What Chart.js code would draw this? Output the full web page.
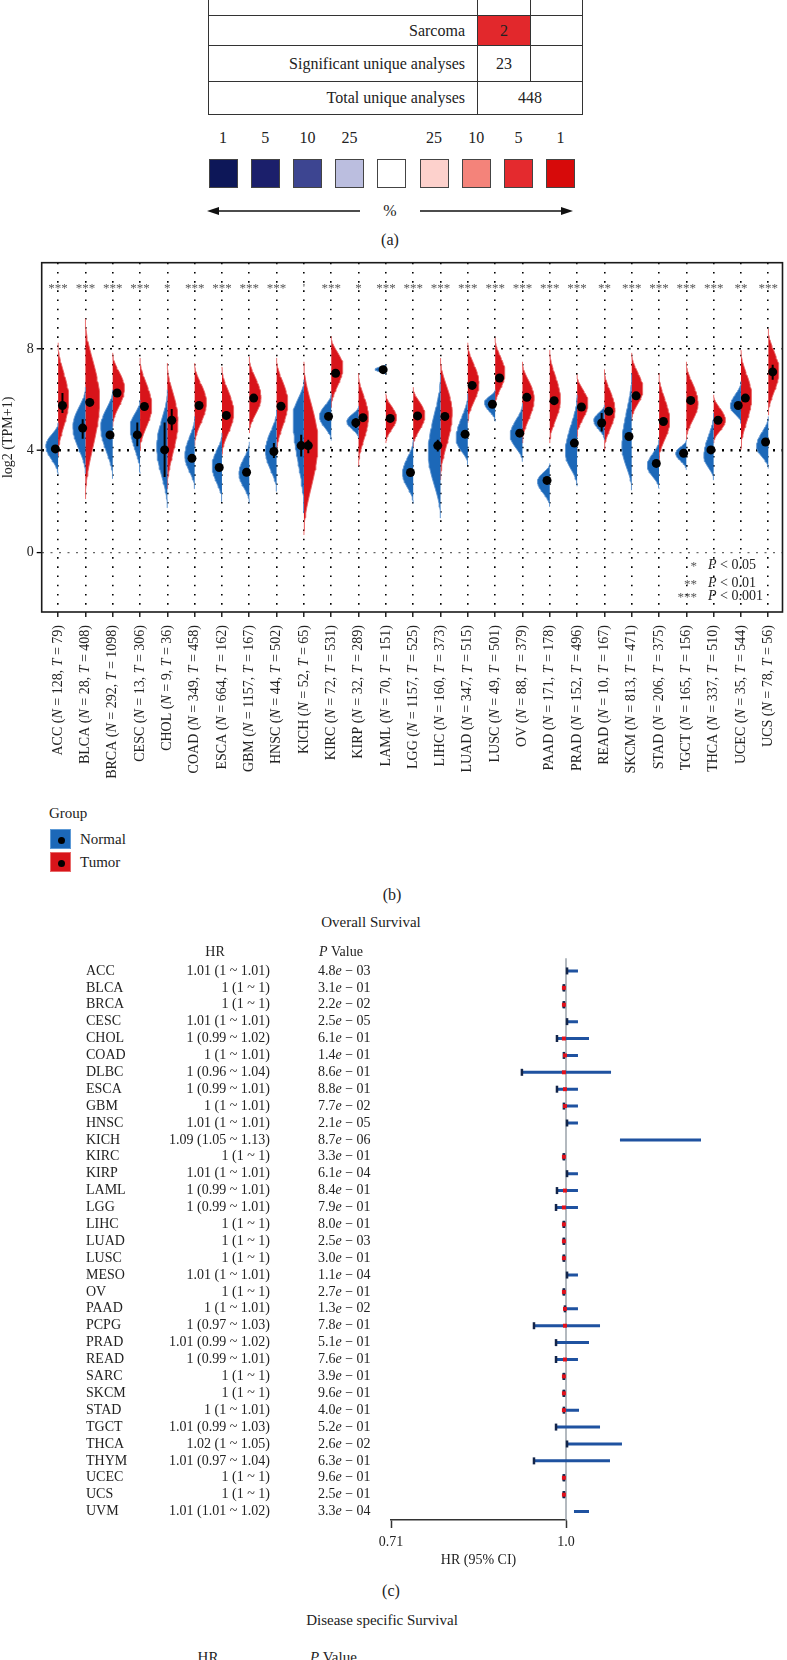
<!DOCTYPE html>
<html>
<head>
<meta charset="utf-8">
<script src="https://cdn.jsdelivr.net/npm/chart.js"></script>
<style>
  body { margin: 0; background: #fff; }
  #page { position: relative; width: 787px; height: 1660px; overflow: hidden; font-family: 'Liberation Serif', 'Times New Roman', serif; color: #222; }
  .abs { position: absolute; }
  #tableA { position: absolute; left: 208px; top: -16px; border-collapse: collapse; table-layout: fixed; font-size: 16px; }
  #tableA td { border: 1.5px solid #333; padding: 0; }
  .lbl { text-align: right; padding-right: 12px !important; }
  .num { text-align: center; }
  .sq { position: absolute; top: 159px; width: 29px; height: 29px; box-sizing: border-box; border: 1.5px solid #444; }
  .snum { position: absolute; top: 128px; width: 29px; text-align: center; font-size: 16px; line-height: 20px; }
  .cap { position: absolute; font-size: 16px; line-height: 18px; transform: translateX(-50%); white-space: nowrap; }
  .gsq { position: absolute; left: 50px; width: 21px; height: 20px; box-sizing: border-box; }
  .gdot { position: absolute; left: 7px; top: 6.5px; width: 7px; height: 7px; border-radius: 50%; background: #000; }
  .gtxt { position: absolute; left: 80px; font-size: 15px; line-height: 18px; }
</style>
</head>
<body>
<div id="page">
  <table id="tableA"></table>
  <div id="scaleA"></div>
  <svg class="abs" style="left:0;top:201px" width="787" height="20">
    <line x1="214" y1="10" x2="360" y2="10" stroke="#111" stroke-width="1.5"/>
    <polygon points="207,10 219,6 219,14" fill="#111"/>
    <line x1="420" y1="10" x2="566" y2="10" stroke="#111" stroke-width="1.5"/>
    <polygon points="573,10 561,6 561,14" fill="#111"/>
  </svg>
  <div class="cap" style="left:390px;top:202px">%</div>
  <div class="cap" style="left:390px;top:231px">(a)</div>

  <div class="abs" style="left:0;top:250px;width:787px;height:545px"><canvas id="violinChart"></canvas></div>

  <div class="gtxt" style="left:49px;top:804px">Group</div>
  <div class="gsq" style="top:829px;background:#1c68b8;border:1px solid #5d9ad6"><div class="gdot"></div></div>
  <div class="gtxt" style="top:830px">Normal</div>
  <div class="gsq" style="top:852px;background:#d8141a;border:1px solid #e86a6a"><div class="gdot"></div></div>
  <div class="gtxt" style="top:853px">Tumor</div>

  <div class="cap" style="left:392px;top:886px">(b)</div>
  <div class="cap" style="left:371px;top:913px;font-size:15px">Overall Survival</div>

  <div class="abs" style="left:0;top:900px;width:787px;height:680px"><canvas id="forestChart"></canvas></div>

  <div class="cap" style="left:391px;top:1582px">(c)</div>
  <div class="cap" style="left:382px;top:1611px;font-size:15px">Disease specific Survival</div>
  <div class="cap" style="left:208px;top:1648px;font-size:15px">HR</div>
  <div class="abs" style="left:310px;top:1648px;font-size:15px;line-height:18px"><i>P</i> Value</div>
</div>

<script>
// panel a
const tableLabels = ['Sarcoma', 'Significant unique analyses', 'Total unique analyses'];
const tableCounts = ['2', '23', '448'];
const scaleLabels = ['1', '5', '10', '25', '', '25', '10', '5', '1'];
const scaleColors = ['#0d1758', '#1b1f6b', '#3d4591', '#bbbedf', '#ffffff', '#fdd1cc', '#f4837a', '#e42a2e', '#d70a0a'];

// panel b
const cancers = ['ACC','BLCA','BRCA','CESC','CHOL','COAD','ESCA','GBM','HNSC','KICH','KIRC','KIRP','LAML','LGG','LIHC','LUAD','LUSC','OV','PAAD','PRAD','READ','SKCM','STAD','TGCT','THCA','UCEC','UCS'];
const normalCount = [128, 28, 292, 13, 9, 349, 664, 1157, 44, 52, 72, 32, 70, 1157, 160, 347, 49, 88, 171, 152, 10, 813, 206, 165, 337, 35, 78];
const tumorCount = [79, 408, 1098, 306, 36, 458, 162, 167, 502, 65, 531, 289, 151, 525, 373, 515, 501, 379, 178, 496, 167, 471, 375, 156, 510, 544, 56];
const stars = ['***','***','***','***','*','***','***','***','***',"'",'***','*','***','***','***','***','***','***','***','***','**','***','***','***','***','**','***'];

const normalMin = [3.05, 3.1, 2.9, 3.1, 1.75, 2.5, 2.0, 1.95, 2.4, 1.55, 4.4, 4.5, 7.0, 1.93, 1.35, 3.45, 5.15, 3.57, 1.8, 2.6, 4.43, 2.45, 2.5, 3.25, 2.85, 5.08, 3.3];
const normalPeak = [4.2, 4.95, 4.95, 4.95, 4.15, 3.8, 3.4, 3.1, 4.0, 5.35, 5.35, 5.15, 7.2, 3.1, 3.9, 4.45, 5.9, 4.6, 2.8, 3.9, 5.2, 4.17, 3.4, 3.9, 3.77, 5.74, 4.17];
const normalMax = [5.1, 6.5, 6.4, 6.0, 6.4, 5.35, 4.7, 4.35, 5.6, 6.8, 6.25, 5.75, 7.4, 4.43, 7.0, 6.25, 6.4, 5.87, 3.5, 6.2, 5.8, 7.05, 4.43, 4.43, 5.48, 6.73, 5.35];
const normalWidth = [0.45, 0.46, 0.44, 0.36, 0.39, 0.36, 0.36, 0.38, 0.41, 0.4, 0.43, 0.43, 0.4, 0.39, 0.45, 0.43, 0.39, 0.45, 0.45, 0.43, 0.39, 0.36, 0.43, 0.39, 0.36, 0.39, 0.43];
const normalMedian = [4.07, 4.89, 4.62, 4.62, 4.03, 3.7, 3.34, 3.15, 3.97, 4.2, 5.35, 5.1, 7.19, 3.14, 4.2, 4.65, 5.83, 4.69, 2.83, 4.3, 5.09, 4.56, 3.5, 3.9, 4.03, 5.78, 4.34];
const normalQ1 = [null, 4.47, null, 4.17, 2.96, null, null, null, 3.71, 3.77, null, 4.89, null, null, 3.97, null, null, null, null, null, 4.76, null, null, null, null, null, null];
const normalQ3 = [null, 5.24, null, 5.11, 5.11, null, null, null, 4.3, 4.63, null, 5.28, null, null, 4.43, null, null, null, null, null, 5.48, null, null, null, null, null, null];

const tumorMin = [3.8, 2.1, 4.95, 4.0, 2.5, 4.2, 3.8, 4.7, 3.9, 0.68, 5.7, 3.4, 4.3, 4.15, 2.85, 5.1, 5.75, 4.3, 4.3, 4.56, 4.03, 5.2, 3.64, 4.43, 4.3, 4.03, 5.4];
const tumorPeak = [6.0, 6.0, 6.45, 5.75, 5.2, 5.9, 5.5, 6.1, 5.9, 4.3, 7.3, 5.35, 5.3, 5.4, 5.5, 6.65, 7.05, 6.07, 6.0, 5.87, 5.6, 6.4, 5.15, 5.87, 5.2, 6.13, 7.12];
const tumorMax = [8.25, 9.2, 7.85, 7.65, 7.45, 7.45, 7.3, 7.7, 7.65, 7.5, 8.5, 7.05, 6.25, 6.5, 7.65, 8.25, 8.45, 7.5, 7.97, 7.0, 7.2, 7.85, 7.05, 7.5, 6.2, 7.97, 8.8];
const tumorWidth = [0.39, 0.52, 0.43, 0.43, 0.39, 0.43, 0.43, 0.43, 0.41, 0.51, 0.43, 0.36, 0.39, 0.43, 0.43, 0.41, 0.36, 0.43, 0.39, 0.4, 0.39, 0.41, 0.39, 0.43, 0.43, 0.39, 0.39];
const tumorMedian = [5.78, 5.9, 6.27, 5.74, 5.2, 5.78, 5.39, 6.07, 5.75, 4.2, 7.05, 5.3, 5.27, 5.37, 5.35, 6.57, 6.86, 6.1, 5.97, 5.72, 5.55, 6.16, 5.15, 5.98, 5.2, 6.07, 7.1];
const tumorQ1 = [5.48, null, null, null, 4.8, null, null, null, null, 3.9, null, null, null, null, null, null, null, null, null, null, null, null, null, null, null, null, 6.79];
const tumorQ3 = [6.27, null, null, null, 5.64, null, null, null, null, 4.43, null, null, null, null, null, null, null, null, null, null, null, null, null, null, null, null, 7.38];

const yTicks = [0, 4, 8];
const sigStars = ['*', '**', '***'];
const sigText = ['0.05', '0.01', '0.001'];

// panel c
const osCancers = ['ACC','BLCA','BRCA','CESC','CHOL','COAD','DLBC','ESCA','GBM','HNSC','KICH','KIRC','KIRP','LAML','LGG','LIHC','LUAD','LUSC','MESO','OV','PAAD','PCPG','PRAD','READ','SARC','SKCM','STAD','TGCT','THCA','THYM','UCEC','UCS','UVM'];
const osLabel = ['1.01 (1 ~ 1.01)','1 (1 ~ 1)','1 (1 ~ 1)','1.01 (1 ~ 1.01)','1 (0.99 ~ 1.02)','1 (1 ~ 1.01)','1 (0.96 ~ 1.04)','1 (0.99 ~ 1.01)','1 (1 ~ 1.01)','1.01 (1 ~ 1.01)','1.09 (1.05 ~ 1.13)','1 (1 ~ 1)','1.01 (1 ~ 1.01)','1 (0.99 ~ 1.01)','1 (0.99 ~ 1.01)','1 (1 ~ 1)','1 (1 ~ 1)','1 (1 ~ 1)','1.01 (1 ~ 1.01)','1 (1 ~ 1)','1 (1 ~ 1.01)','1 (0.97 ~ 1.03)','1.01 (0.99 ~ 1.02)','1 (0.99 ~ 1.01)','1 (1 ~ 1)','1 (1 ~ 1)','1 (1 ~ 1.01)','1.01 (0.99 ~ 1.03)','1.02 (1 ~ 1.05)','1.01 (0.97 ~ 1.04)','1 (1 ~ 1)','1 (1 ~ 1)','1.01 (1.01 ~ 1.02)'];
const osP = ['4.8e-03','3.1e-01','2.2e-02','2.5e-05','6.1e-01','1.4e-01','8.6e-01','8.8e-01','7.7e-02','2.1e-05','8.7e-06','3.3e-01','6.1e-04','8.4e-01','7.9e-01','8.0e-01','2.5e-03','3.0e-01','1.1e-04','2.7e-01','1.3e-02','7.8e-01','5.1e-01','7.6e-01','3.9e-01','9.6e-01','4.0e-01','5.2e-01','2.6e-02','6.3e-01','9.6e-01','2.5e-01','3.3e-04'];
const osHR = [1.0095, 0.998, 0.998, 1.0095, 0.998, 0.999, 0.998, 0.999, 0.999, 1.0095, 1.0876, 0.998, 1.0095, 0.999, 0.998, 0.998, 0.998, 0.998, 1.0095, 0.998, 0.999, 0.999, 1.0086, 0.999, 0.998, 0.998, 0.998, 1.0086, 1.019, 1.0086, 0.998, 0.998, 1.0105];
const osLow = [1.001, 0.998, 0.998, 1.001, 0.9914, 0.998, 0.958, 0.9914, 0.998, 1.001, 1.0514, 0.998, 1.001, 0.9914, 0.9905, 0.998, 0.998, 0.998, 1.001, 0.998, 0.999, 0.9695, 0.9905, 0.9905, 0.998, 0.998, 0.998, 0.9905, 1.001, 0.9695, 0.998, 0.998, 1.0076];
const osHigh = [1.0114, 0.998, 0.998, 1.0114, 1.0219, 1.0114, 1.0429, 1.0114, 1.0114, 1.0114, 1.1286, 0.998, 1.0114, 1.0114, 1.0114, 0.998, 0.998, 0.998, 1.0114, 0.998, 1.0114, 1.0324, 1.0219, 1.0114, 0.998, 0.998, 1.0124, 1.0324, 1.0533, 1.0419, 0.998, 0.998, 1.0219];
const osAxisLabels = ['0.71', '1.0'];

const serif = "'Liberation Serif', 'Times New Roman', serif";

//draw text made of plain and italic pieces
function drawParts(ctx, parts, x, y, align, size) {
    const widths = parts.map(function(p) {
        ctx.font = (p[1] ? 'italic ' : '') + size + 'px ' + serif;
        return ctx.measureText(p[0]).width;
    });
    const total = widths.reduce(function(a, b) { return a + b; }, 0);
    let cx = align === 'right' ? x - total : (align === 'center' ? x - total / 2 : x);
    ctx.textAlign = 'left';
    parts.forEach(function(p, k) {
        ctx.font = (p[1] ? 'italic ' : '') + size + 'px ' + serif;
        ctx.fillText(p[0], cx, y);
        cx += widths[k];
    });
}

function buildPanelA() {
    const tbl = document.getElementById('tableA');
    const heights = [30, 36, 33];
    let html = '<colgroup><col style="width:269px"><col style="width:53px"><col style="width:52px"></colgroup>';
    html += '<tr style="height:31px"><td></td><td></td><td></td></tr>';
    tableLabels.forEach(function(label, i) {
        html += '<tr style="height:' + heights[i] + 'px"><td class="lbl">' + label + '</td>';
        if (i === tableLabels.length - 1) {
            html += '<td class="num" colspan="2">' + tableCounts[i] + '</td></tr>';
        } else {
            const bg = i === 0 ? 'background:#e2282c;' : '';
            html += '<td class="num" style="' + bg + '">' + tableCounts[i] + '</td><td></td></tr>';
        }
    });
    tbl.innerHTML = html;

    const scale = document.getElementById('scaleA');
    scaleColors.forEach(function(color, i) {
        const left = 208.5 + i * 42.2;
        const n = document.createElement('div');
        n.className = 'snum';
        n.style.left = left + 'px';
        n.textContent = scaleLabels[i];
        scale.appendChild(n);
        const sq = document.createElement('div');
        sq.className = 'sq';
        sq.style.left = left + 'px';
        sq.style.background = color;
        scale.appendChild(sq);
    });
}

//half violin outline from the read stats
function halfViolin(i, side, lo, peak, hi, w) {
    const pts = [];
    const n = 40;
    for (let k = 0; k <= n; k++) {
        const y = lo + (hi - lo) * k / n;
        const u = y <= peak ? (y - lo) / ((peak - lo) || 1) : (hi - y) / ((hi - peak) || 1);
        const f = (1 - Math.cos(Math.PI * u)) / 2;
        pts.push({x: i + side * w * f, y: y});
    }
    return pts;
}

function buildViolin() {
    const datasets = [];
    const normalOffset = -0.1;
    const tumorOffset = 0.16;

    const normalDots = cancers.map(function(c, i) { return {x: i + normalOffset, y: normalMedian[i]}; });
    const tumorDots = cancers.map(function(c, i) { return {x: i + tumorOffset, y: tumorMedian[i]}; });
    const bars = [];
    cancers.forEach(function(c, i) {
        if (normalQ1[i] !== null) {
            bars.push({x: i + normalOffset, y: normalQ1[i]}, {x: i + normalOffset, y: normalQ3[i]}, {x: null, y: null});
        }
        if (tumorQ1[i] !== null) {
            bars.push({x: i + tumorOffset, y: tumorQ1[i]}, {x: i + tumorOffset, y: tumorQ3[i]}, {x: null, y: null});
        }
    });

    datasets.push({type: 'scatter', data: normalDots.concat(tumorDots), pointRadius: 4.5, backgroundColor: '#000', borderWidth: 0, order: 1});
    datasets.push({type: 'line', data: bars, borderColor: '#000', borderWidth: 2, pointRadius: 0, spanGaps: false, fill: false, order: 2});

    cancers.forEach(function(c, i) {
        datasets.push({
            type: 'line',
            data: halfViolin(i, -1, normalMin[i], normalPeak[i], normalMax[i], normalWidth[i]),
            borderColor: 'rgba(95,150,210,0.9)', borderWidth: 1, backgroundColor: '#1c68b8',
            fill: 'shape', pointRadius: 0, tension: 0, order: 3
        });
        datasets.push({
            type: 'line',
            data: halfViolin(i, 1, tumorMin[i], tumorPeak[i], tumorMax[i], tumorWidth[i]),
            borderColor: 'rgba(232,100,100,0.9)', borderWidth: 1, backgroundColor: '#d8141a',
            fill: 'shape', pointRadius: 0, tension: 0, order: 3
        });
    });

    const textPlugin = {
        id: 'violinText',
        afterDraw: function(chart) {
            const ctx = chart.ctx;
            const xs = chart.scales.x;
            const ys = chart.scales.y;
            const area = chart.chartArea;
            ctx.save();
            //frame
            ctx.strokeStyle = '#1a1a1a';
            ctx.lineWidth = 1.6;
            ctx.strokeRect(area.left, area.top, area.right - area.left, area.bottom - area.top);
            //stars
            ctx.fillStyle = '#555';
            ctx.font = '13px ' + serif;
            ctx.textAlign = 'center';
            ctx.textBaseline = 'middle';
            cancers.forEach(function(c, i) {
                ctx.fillText(stars[i], xs.getPixelForValue(i), ys.getPixelForValue(10.4));
            });
            //significance key
            const keyY = [area.bottom - 47, area.bottom - 29, area.bottom - 16];
            sigStars.forEach(function(s, k) {
                ctx.fillStyle = '#555';
                ctx.font = '13px ' + serif;
                ctx.textAlign = 'right';
                ctx.fillText(s, 697, keyY[k] + 2);
                ctx.fillStyle = '#222';
                drawParts(ctx, [['P', true], [' < ' + sigText[k], false]], 708, keyY[k], 'left', 14);
            });
            //category labels
            ctx.fillStyle = '#222';
            cancers.forEach(function(c, i) {
                ctx.save();
                ctx.translate(xs.getPixelForValue(i), area.bottom + 13);
                ctx.rotate(-Math.PI / 2);
                ctx.textBaseline = 'middle';
                drawParts(ctx, [[c + ' (', false], ['N', true], [' = ' + normalCount[i] + ', ', false], ['T', true], [' = ' + tumorCount[i] + ')', false]], 0, 0, 'right', 14);
                ctx.restore();
            });
            ctx.restore();
        }
    };

    new Chart(document.getElementById('violinChart'), {
        type: 'line',
        data: {datasets: datasets},
        options: {
            responsive: true,
            maintainAspectRatio: false,
            animation: false,
            events: [],
            layout: {padding: {top: 12.7, right: 0.5, left: 0, bottom: 0}},
            plugins: {legend: {display: false}, tooltip: {enabled: false}},
            scales: {
                x: {
                    type: 'linear', min: -0.6, max: 26.52,
                    afterBuildTicks: function(scale) { scale.ticks = cancers.map(function(c, i) { return {value: i}; }); },
                    afterFit: function(scale) { scale.height = 183; },
                    ticks: {display: false},
                    grid: {color: '#000', lineWidth: 1.6, tickLength: 5, tickColor: '#000', tickWidth: 1.3},
                    border: {display: false, dash: [1.6, 7.6]}
                },
                y: {
                    min: -2.35, max: 11.4,
                    afterBuildTicks: function(scale) { scale.ticks = yTicks.map(function(v) { return {value: v}; }); },
                    afterFit: function(scale) { scale.width = 41.7; },
                    ticks: {color: '#222', font: {family: serif, size: 14}, padding: 3},
                    title: {display: true, text: 'log2 (TPM+1)', color: '#222', font: {family: serif, size: 14}, padding: 0},
                    grid: {
                        color: function(ctx) { return ctx.tick && ctx.tick.value === 0 ? '#666' : '#000'; },
                        lineWidth: function(ctx) { return ctx.tick && ctx.tick.value === 4 ? 2.4 : (ctx.tick && ctx.tick.value === 8 ? 1.5 : 1.2); },
                        tickLength: 5, tickColor: '#000', tickWidth: 1.3
                    },
                    border: {display: false, dash: [2, 6.5]}
                }
            }
        },
        plugins: [textPlugin]
    });
}

function buildForest() {
    const ciLines = [];
    const caps = [];
    const points = [];
    osCancers.forEach(function(c, i) {
        ciLines.push({x: osLow[i], y: i}, {x: osHigh[i], y: i}, {x: null, y: null});
        caps.push({x: osLow[i], y: i}, {x: osHigh[i], y: i});
        points.push({x: osHR[i], y: i});
    });

    const tablePlugin = {
        id: 'forestTable',
        afterDraw: function(chart) {
            const ctx = chart.ctx;
            const ys = chart.scales.y;
            ctx.save();
            ctx.fillStyle = '#222';
            ctx.textBaseline = 'middle';
            const hy = ys.getPixelForValue(-1.12);
            drawParts(ctx, [['HR', false]], 215, hy, 'center', 14);
            drawParts(ctx, [['P', true], [' Value', false]], 319, hy, 'left', 14);
            osCancers.forEach(function(c, i) {
                const y = ys.getPixelForValue(i);
                drawParts(ctx, [[c, false]], 86, y, 'left', 14);
                drawParts(ctx, [[osLabel[i], false]], 270, y, 'right', 14);
                const p = osP[i].split('e-');
                drawParts(ctx, [[p[0], false], ['e', true], [' \u2212 ' + p[1], false]], 318, y, 'left', 14);
            });
            ctx.restore();
        }
    };

    new Chart(document.getElementById('forestChart'), {
        type: 'line',
        data: {
            datasets: [
                {type: 'scatter', data: points, pointStyle: 'rect', pointRadius: 2.8, backgroundColor: '#e3101b', borderWidth: 0, clip: false, order: 1},
                {type: 'scatter', data: caps, pointStyle: 'line', pointRotation: 90, pointRadius: 3.5, borderColor: '#13254a', pointBorderColor: '#13254a', pointBorderWidth: 2.5, clip: false, order: 2},
                {type: 'line', data: ciLines, borderColor: '#1f52a0', borderWidth: 3, pointRadius: 0, spanGaps: false, fill: false, clip: false, order: 3},
                {type: 'line', data: [{x: 1, y: -0.75}, {x: 1, y: 32.5}], borderColor: '#9aa3aa', borderWidth: 1.5, pointRadius: 0, fill: false, clip: false, order: 4}
            ]
        },
        options: {
            responsive: true,
            maintainAspectRatio: false,
            animation: false,
            events: [],
            layout: {padding: {top: 62.5, left: 391, right: 221, bottom: 0}},
            plugins: {legend: {display: false}, tooltip: {enabled: false}},
            scales: {
                x: {
                    type: 'linear', min: 0.8333, max: 1.0,
                    afterBuildTicks: function(scale) { scale.ticks = [{value: scale.min}, {value: scale.max}]; },
                    afterFit: function(scale) { scale.height = 60; },
                    ticks: {
                        color: '#222', font: {family: serif, size: 14}, padding: 6, autoSkip: false, maxRotation: 0,
                        callback: function(v, idx) { return osAxisLabels[idx]; }
                    },
                    grid: {drawOnChartArea: false, tickLength: 8, tickColor: '#333', tickWidth: 1.5},
                    border: {display: true, color: '#333', width: 1.5},
                    title: {display: true, text: 'HR (95% CI)', color: '#222', font: {family: serif, size: 14}, padding: {top: 0, bottom: 11.6}}
                },
                y: {type: 'linear', reverse: true, min: -0.5, max: 32.5, display: false}
            }
        },
        plugins: [tablePlugin]
    });
}

document.addEventListener('DOMContentLoaded', function() {
    buildPanelA();
    buildViolin();
    buildForest();
});
</script>
</body>
</html>
